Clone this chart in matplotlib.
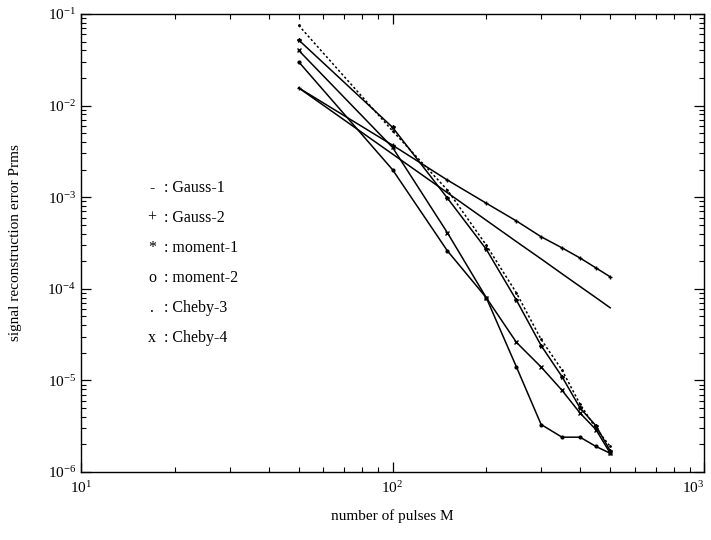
import matplotlib
matplotlib.use("Agg")
import matplotlib.pyplot as plt
from matplotlib.ticker import LogLocator, NullFormatter

plt.rcParams['font.family'] = ['Liberation Serif', 'DejaVu Serif']
plt.rcParams['mathtext.fontset'] = 'custom'
plt.rcParams['mathtext.rm'] = 'Liberation Serif'

M = [50, 100, 150, 200, 250, 300, 350, 400, 450, 500]

gauss1 = [1.56e-2, 2.96e-3, 1.12e-3, 5.6e-4, 3.27e-4, 2.12e-4, 1.46e-4, 1.06e-4, 8.0e-5, 6.2e-5]
gauss2 = [1.56e-2, 3.7e-3, 1.54e-3, 8.6e-4, 5.5e-4, 3.7e-4, 2.8e-4, 2.17e-4, 1.69e-4, 1.35e-4]
moment1 = [5.2e-2, 5.8e-3, 9.8e-4, 2.7e-4, 7.5e-5, 2.4e-5, 1.1e-5, 5.0e-6, 3.2e-6, 1.7e-6]
moment2 = [3.0e-2, 2.0e-3, 2.6e-4, 8.0e-5, 1.4e-5, 3.3e-6, 2.4e-6, 2.4e-6, 1.9e-6, 1.6e-6]
cheby3 = [7.5e-2, 5.3e-3, 1.2e-3, 3.0e-4, 9.0e-5, 2.8e-5, 1.3e-5, 5.5e-6, 3.0e-6, 1.9e-6]
cheby4 = [4.0e-2, 3.5e-3, 4.1e-4, 8.0e-5, 2.6e-5, 1.4e-5, 7.8e-6, 4.4e-6, 2.9e-6, 1.6e-6]

labels = ['Gauss-1', 'Gauss-2', 'moment-1', 'moment-2', 'Cheby-3', 'Cheby-4']
symbols = ['-', '+', '*', 'o', '.', 'x']

xticks = [10, 100, 1000]
xticklabels = [r'$\mathregular{10^{1}}$', r'$\mathregular{10^{2}}$', r'$\mathregular{10^{3}}$']
yticks = [1e-6, 1e-5, 1e-4, 1e-3, 1e-2, 1e-1]
yticklabels = [r'$\mathregular{10^{-%d}}$' % k for k in (6, 5, 4, 3, 2, 1)]

fig = plt.figure(figsize=(7.11, 5.40), dpi=100)
ax = fig.add_axes([81/711, 68/540, 623/711, 458/540])

series = [gauss1, gauss2, moment1, moment2, cheby3, cheby4]
styles = [
    dict(ls='-', marker=None),
    dict(ls='-', marker='+', ms=3),
    dict(ls='-', marker='*', ms=3),
    dict(ls='-', marker='o', ms=2, mfc='k'),
    dict(ls=(0, (1.5, 1.5)), marker='.', ms=2),
    dict(ls='-', marker='x', ms=3),
]
for ys, st, lab in zip(series, styles, labels):
    ax.plot(M, ys, color='k', lw=1.1, label=lab, **st)

ax.set_xscale('log')
ax.set_yscale('log')
ax.set_xlim(10, 1000)
ax.set_ylim(1e-6, 1e-1)

ax.set_xticks(xticks, labels=xticklabels)
ax.set_yticks(yticks, labels=yticklabels)
ax.xaxis.set_minor_locator(LogLocator(base=10, subs=range(2, 10)))
ax.yaxis.set_minor_locator(LogLocator(base=10, subs=range(2, 10)))
ax.xaxis.set_minor_formatter(NullFormatter())
ax.yaxis.set_minor_formatter(NullFormatter())
ax.tick_params(which='both', direction='in', top=True, right=True, labelsize=11)
ax.tick_params(which='major', length=7, width=0.9)
ax.tick_params(which='minor', length=3.5, width=0.8)
ax.tick_params(axis='x', pad=6)
ax.get_xticklabels()[-1].set_horizontalalignment('right')
for s in ax.spines.values():
    s.set_linewidth(1.0)

ax.set_xlabel('number of pulses M', fontsize=11, labelpad=9)
ax.set_ylabel('signal reconstruction error Prms', fontsize=11, labelpad=18)

# legend text inside plot
y0 = 188
for i, (sym, lab) in enumerate(zip(symbols, labels)):
    yy = 1 - (y0 + 30 * i - 14) / 458
    ax.text((152 - 81) / 623, yy, sym, transform=ax.transAxes, fontsize=11.5,
            ha='center', va='center')
    ax.text((164 - 81) / 623, yy, ': ' + lab, transform=ax.transAxes, fontsize=11.5,
            ha='left', va='center')

fig.savefig('out.png', dpi=100)
